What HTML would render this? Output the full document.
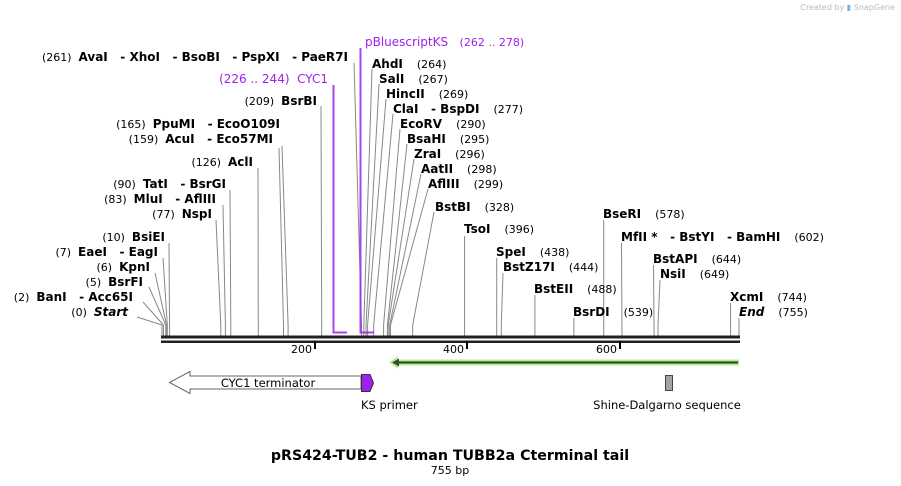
<!DOCTYPE html>
<html><head><meta charset="utf-8"><style>
html,body{margin:0;padding:0;background:#fff;width:901px;height:486px;overflow:hidden}
svg{display:block}
text{font-family:"DejaVu Sans","Liberation Sans",sans-serif;white-space:pre}
.n{font-size:11px;font-weight:normal;fill:#000}
.b{font-size:12px;font-weight:bold;fill:#000}
.p{font-size:12px;fill:#a020f0}
.l{stroke:#888;stroke-width:1;fill:none}
.f{font-size:11.5px;font-family:"DejaVu Sans",sans-serif}
</style></head><body>
<svg width="901" height="486" xmlns="http://www.w3.org/2000/svg">
<text x="895" y="10" text-anchor="end" style="font-size:8px;fill:#bbb">Created by <tspan fill="#6bb8e8">▮</tspan> SnapGene</text>

<g class="l">
<polyline points="354,63 361.5,325 361.5,336"/>
<polyline points="321,106 321.7,325 321.7,336"/>
<polyline points="282,146 288.1,325 288.1,336"/>
<polyline points="279,148 283.5,325 283.5,336"/>
<polyline points="258,168 258.3,336"/>
<polyline points="230,190 230.8,325 230.8,336"/>
<polyline points="223,205 225.4,325 225.4,336"/>
<polyline points="216,220 220.8,325 220.8,336"/>
<polyline points="169,243 169.6,336"/>
<polyline points="163,258 167.3,325 167.3,336"/>
<polyline points="155,273 166.6,325 166.6,336"/>
<polyline points="149,287 165.8,325 165.8,336"/>
<polyline points="143,302 163.5,325 163.5,336"/>
<polyline points="137,317 162,325 162,336"/>
<polyline points="372,69 363.8,325 363.8,336"/>
<polyline points="379,84 366,325 366,336"/>
<polyline points="386,99 367.6,325 367.6,336"/>
<polyline points="393,114 373.7,325 373.7,336"/>
<polyline points="400,129 383.6,325 383.6,336"/>
<polyline points="407,144 387.4,325 387.4,336"/>
<polyline points="414,159 388.2,325 388.2,336"/>
<polyline points="421,174 389.7,325 389.7,336"/>
<polyline points="428,189 390.5,325 390.5,336"/>
<polyline points="434,212 412.7,325 412.7,336"/>
<polyline points="464.6,236 464.6,336"/>
<polyline points="496.7,258 496.7,336"/>
<polyline points="503,273 501.3,325 501.3,336"/>
<polyline points="534.9,295 534.9,336"/>
<polyline points="573.9,318 573.9,336"/>
<polyline points="603.7,220 603.7,336"/>
<polyline points="621.5,243 622,336"/>
<polyline points="653.5,265 654.1,336"/>
<polyline points="660,280 658,325 658,336"/>
<polyline points="730.6,303 730.6,336"/>
<polyline points="739,318 739,336"/>
</g>

<polyline points="333.5,85 333.5,332.5 347,332.5" fill="none" stroke="#a020f0" stroke-width="2" stroke-opacity="0.85"/>
<polyline points="360.5,48 360.5,332.5 374,332.5" fill="none" stroke="#a020f0" stroke-width="2" stroke-opacity="0.85"/>

<rect x="161" y="335.5" width="579" height="3" fill="#222"/>
<rect x="161" y="340.5" width="579" height="2.5" fill="#222"/>
<g stroke="#000" stroke-width="2"><line x1="315" y1="341" x2="315" y2="349"/><line x1="467" y1="341" x2="467" y2="349"/><line x1="620" y1="341" x2="620" y2="349"/></g>
<text x="312" y="353" text-anchor="end" class="n">200</text>
<text x="464" y="353" text-anchor="end" class="n">400</text>
<text x="617" y="353" text-anchor="end" class="n">600</text>

<g text-anchor="end">
<text x="348" y="61"><tspan class="n">(261)  </tspan><tspan class="b">AvaI   - XhoI   - BsoBI   - PspXI   - PaeR7I</tspan></text>
<text x="328" y="83" class="p">(226 .. 244)  CYC1</text>
<text x="317" y="105"><tspan class="n">(209)  </tspan><tspan class="b">BsrBI</tspan></text>
<text x="280" y="128"><tspan class="n">(165)  </tspan><tspan class="b">PpuMI   - EcoO109I</tspan></text>
<text x="273" y="143"><tspan class="n">(159)  </tspan><tspan class="b">AcuI   - Eco57MI</tspan></text>
<text x="253" y="166"><tspan class="n">(126)  </tspan><tspan class="b">AclI</tspan></text>
<text x="226" y="188"><tspan class="n">(90)  </tspan><tspan class="b">TatI   - BsrGI</tspan></text>
<text x="216" y="203"><tspan class="n">(83)  </tspan><tspan class="b">MluI   - AflIII</tspan></text>
<text x="212" y="218"><tspan class="n">(77)  </tspan><tspan class="b">NspI</tspan></text>
<text x="165" y="241"><tspan class="n">(10)  </tspan><tspan class="b">BsiEI</tspan></text>
<text x="158" y="256"><tspan class="n">(7)  </tspan><tspan class="b">EaeI   - EagI</tspan></text>
<text x="150" y="271"><tspan class="n">(6)  </tspan><tspan class="b">KpnI</tspan></text>
<text x="143" y="286"><tspan class="n">(5)  </tspan><tspan class="b">BsrFI</tspan></text>
<text x="133" y="301"><tspan class="n">(2)  </tspan><tspan class="b">BanI   - Acc65I</tspan></text>
<text x="128" y="316"><tspan class="n">(0)  </tspan><tspan class="b" font-style="italic">Start</tspan></text>
</g>

<g>
<text x="365" y="46" class="p">pBluescriptKS   <tspan style="font-size:11px">(262 .. 278)</tspan></text>
<text x="372" y="68"><tspan class="b">AhdI</tspan><tspan class="n">    (264)</tspan></text>
<text x="379" y="83"><tspan class="b">SalI</tspan><tspan class="n">    (267)</tspan></text>
<text x="386" y="98"><tspan class="b">HincII</tspan><tspan class="n">    (269)</tspan></text>
<text x="393" y="113"><tspan class="b">ClaI   - BspDI</tspan><tspan class="n">    (277)</tspan></text>
<text x="400" y="128"><tspan class="b">EcoRV</tspan><tspan class="n">    (290)</tspan></text>
<text x="407" y="143"><tspan class="b">BsaHI</tspan><tspan class="n">    (295)</tspan></text>
<text x="414" y="158"><tspan class="b">ZraI</tspan><tspan class="n">    (296)</tspan></text>
<text x="421" y="173"><tspan class="b">AatII</tspan><tspan class="n">    (298)</tspan></text>
<text x="428" y="188"><tspan class="b">AflIII</tspan><tspan class="n">    (299)</tspan></text>
<text x="435" y="211"><tspan class="b">BstBI</tspan><tspan class="n">    (328)</tspan></text>
<text x="464" y="233"><tspan class="b">TsoI</tspan><tspan class="n">    (396)</tspan></text>
<text x="496" y="256"><tspan class="b">SpeI</tspan><tspan class="n">    (438)</tspan></text>
<text x="503" y="271"><tspan class="b">BstZ17I</tspan><tspan class="n">    (444)</tspan></text>
<text x="534" y="293"><tspan class="b">BstEII</tspan><tspan class="n">    (488)</tspan></text>
<text x="573" y="316"><tspan class="b">BsrDI</tspan><tspan class="n">    (539)</tspan></text>
<text x="603" y="218"><tspan class="b">BseRI</tspan><tspan class="n">    (578)</tspan></text>
<text x="621" y="241"><tspan class="b">MfII *   - BstYI   - BamHI</tspan><tspan class="n">    (602)</tspan></text>
<text x="653" y="263"><tspan class="b">BstAPI</tspan><tspan class="n">    (644)</tspan></text>
<text x="660" y="278"><tspan class="b">NsiI</tspan><tspan class="n">    (649)</tspan></text>
<text x="730" y="301"><tspan class="b">XcmI</tspan><tspan class="n">    (744)</tspan></text>
<text x="739" y="316"><tspan class="b" font-style="italic">End</tspan><tspan class="n">    (755)</tspan></text>
</g>

<line x1="396" y1="362.5" x2="739" y2="362.5" stroke="#b8f090" stroke-width="6"/>
<polygon points="389,362.5 398,356 398,369" fill="#b8f090"/>
<line x1="398" y1="362.5" x2="738" y2="362.5" stroke="#3a4a30" stroke-width="2.2"/>
<polygon points="392,362.5 399,358.5 399,366.5" fill="#3a4a30"/>

<polygon points="169.5,382.5 190,371.5 190,376 361,376 361,389 190,389 190,393.5" fill="#fff" stroke="#666" stroke-width="1"/>
<text x="268" y="387" text-anchor="middle" class="f">CYC1 terminator</text>
<polygon points="361.5,374.5 370,374.5 373.5,383 370,391.5 361.5,391.5" fill="#a020f0" stroke="#333" stroke-width="1"/>
<text x="361" y="409" class="f">KS primer</text>
<rect x="665.5" y="375.5" width="7" height="15" fill="#a0a4a8" stroke="#444" stroke-width="1"/>
<text x="667" y="409" text-anchor="middle" class="f">Shine-Dalgarno sequence</text>

<text x="450" y="460" text-anchor="middle" style="font-size:14.2px;font-weight:bold">pRS424-TUB2 - human TUBB2a Cterminal tail</text>
<text x="450" y="474" text-anchor="middle" style="font-size:11px">755 bp</text>
</svg>
</body></html>
